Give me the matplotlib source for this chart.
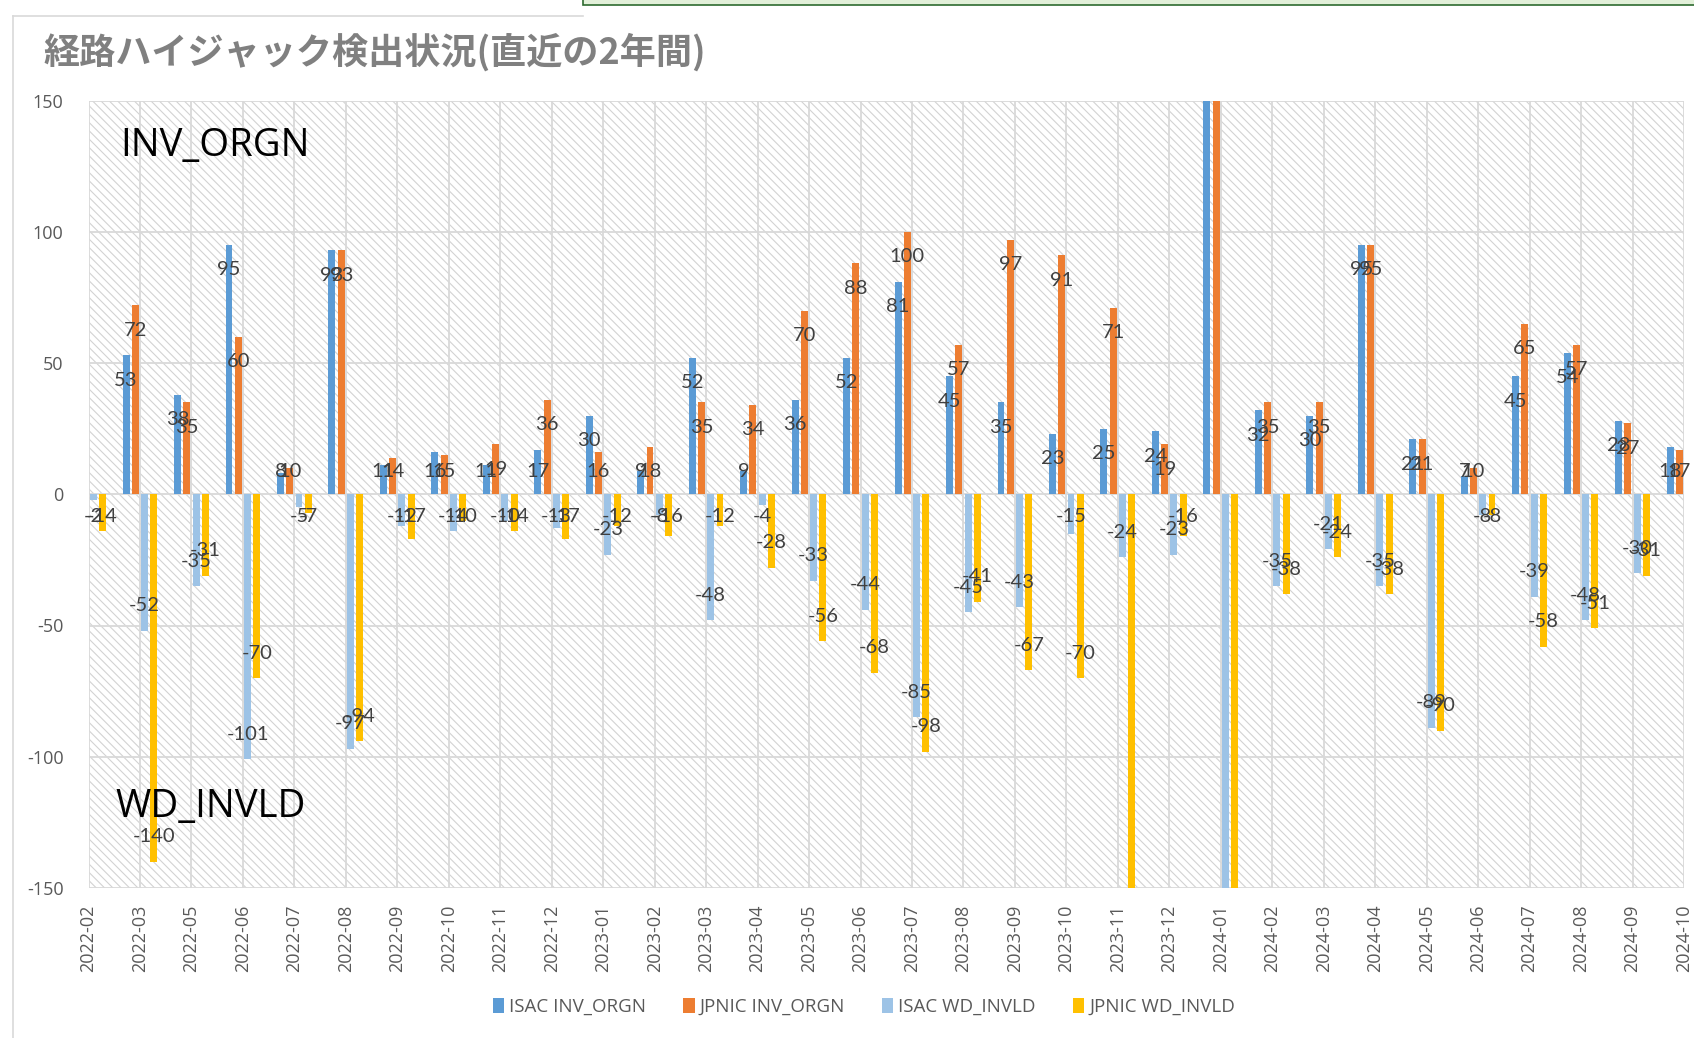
import numpy as np
import matplotlib
matplotlib.use("Agg")
import matplotlib.pyplot as plt
from matplotlib.patches import Rectangle, Patch
from matplotlib.lines import Line2D

nan = np.nan

months = ["2022-02", "2022-03", "2022-05", "2022-06", "2022-07", "2022-08", "2022-09",
          "2022-10", "2022-11", "2022-12", "2023-01", "2023-02", "2023-03", "2023-04",
          "2023-05", "2023-06", "2023-07", "2023-08", "2023-09", "2023-10", "2023-11",
          "2023-12", "2024-01", "2024-02", "2024-03", "2024-04", "2024-05", "2024-06",
          "2024-07", "2024-08", "2024-09", "2024-10"]

isac_inv = [nan, 53, 38, 95, 8, 93, 11, 16, 11, 17, 30, 9, 52, 9, 36, 52, 81, 45, 35, 23, 25,
            24, 180, 32, 30, 95, 21, 7, 45, 54, 28, 18]
jpnic_inv = [nan, 72, 35, 60, 10, 93, 14, 15, 19, 36, 16, 18, 35, 34, 70, 88, 100, 57, 97, 91, 71,
             19, 180, 35, 35, 95, 21, 10, 65, 57, 27, 17]
isac_wd = [-2, -52, -35, -101, -5, -97, -12, -14, -10, -13, -23, -8, -48, -4, -33, -44, -85, -45,
           -43, -15, -24, -23, -180, -35, -21, -35, -89, -8, -39, -48, -30, nan]
jpnic_wd = [-14, -140, -31, -70, -7, -94, -17, -10, -14, -17, -12, -16, -12, -28, -56, -68, -98,
            -41, -67, -70, -170, -16, -180, -38, -24, -38, -90, -8, -58, -51, -31, nan]

series_names = ["ISAC INV_ORGN", "JPNIC INV_ORGN", "ISAC WD_INVLD", "JPNIC WD_INVLD"]
series_vals = [isac_inv, jpnic_inv, isac_wd, jpnic_wd]
series_colors = ["#5B9BD5", "#ED7D31", "#9DC3E6", "#FFC000"]

title = "経路ハイジャック検出状況(直近の2年間)"
yticks = [-150, -100, -50, 0, 50, 100, 150]

plt.rcParams['hatch.linewidth'] = 0.8
plt.rcParams['hatch.color'] = '#d3d3d3'

fig = plt.figure(figsize=(16.94, 10.38), dpi=100)
W, H = 1694, 1038
ax = fig.add_axes([88.5 / W, 1 - 888 / H, (1684 - 88.5) / W, (888 - 100.5) / H])
ax.set_facecolor('none')

# hatched plot area
ax.add_patch(Rectangle((0, 0), 1, 1, transform=ax.transAxes, facecolor='white',
                       edgecolor='#d3d3d3', linewidth=0, hatch='\\\\\\\\', zorder=0.1))

x = np.arange(len(months))
offsets = [-0.27, -0.09, 0.09, 0.27]
width = 0.135
ymin, ymax = -150, 150

for vals, name, col, off in zip(series_vals, series_names, series_colors, offsets):
    v = np.array(vals, dtype=float)
    ax.bar(x + off, v, width, color=col, zorder=3, label=name, linewidth=0)
    for xi, vi in zip(x + off, v):
        if np.isnan(vi):
            continue
        s = np.sign(vi)
        ly = vi - s * 9.5
        if abs(ly) < 8.6:
            ly = s * 8.6
        if ly > ymax or ly < ymin:
            continue
        ax.text(xi, ly, f"{int(vi)}", ha='center', va='center', fontsize=14.5,
                color='#404040', family='Lato', clip_on=False, zorder=5)

ax.set_xlim(0, len(months) - 1)
ax.set_ylim(ymin, ymax)
ax.set_xticks(x)
ax.set_xticklabels(months, rotation=90, fontsize=13, color='#595959', family='Open Sans')
ax.set_yticks(yticks)
ax.set_yticklabels([str(t) for t in yticks], fontsize=13, color='#595959', family='Open Sans')
ax.tick_params(axis='both', length=0)
ax.tick_params(axis='x', pad=12)
ax.tick_params(axis='y', pad=18)
ax.set_axisbelow(True)
ax.grid(True, color='#d9d9d9', linewidth=1.3)
for sp in ax.spines.values():
    sp.set_visible(False)

ax.text(0.62, 132.5, "INV_ORGN", fontsize=27.5, family='Open Sans', va='center', ha='left',
        color='black', zorder=6)
ax.text(0.53, -119.0, "WD_INVLD", fontsize=27.5, family='Open Sans', va='center', ha='left',
        color='black', zorder=6)

fig.text(43 / W, 1 - 52 / H, title, fontsize=26, color='#808080', weight='bold',
         family=['Noto Sans CJK JP', 'DejaVu Sans'], va='center', ha='left')

handles = [Patch(facecolor=c, edgecolor='none') for c in series_colors]
fig.legend(handles, series_names, loc='center', bbox_to_anchor=(0.51, 0.030), ncol=4,
           frameon=False, handlelength=0.6, handleheight=0.8, handletextpad=0.25,
           columnspacing=2.0, prop={'family': 'Open Sans', 'size': 13.5}, labelcolor='#595959')

# chart frame and partial box at top
fig.add_artist(Line2D([13 / W, 13 / W], [1 - 16 / H, 0], color='#d9d9d9', linewidth=1.2,
                      transform=fig.transFigure))
fig.add_artist(Line2D([13 / W, 583 / W], [1 - 16 / H, 1 - 16 / H], color='#d9d9d9',
                      linewidth=1.2, transform=fig.transFigure))
fig.add_artist(Rectangle((583 / W, 1 - 5 / H), 1.0, 0.01, transform=fig.transFigure,
                         facecolor='#e2f0d9', edgecolor='#2e6b30', linewidth=1.2))

fig.savefig("out.png", dpi=100)
